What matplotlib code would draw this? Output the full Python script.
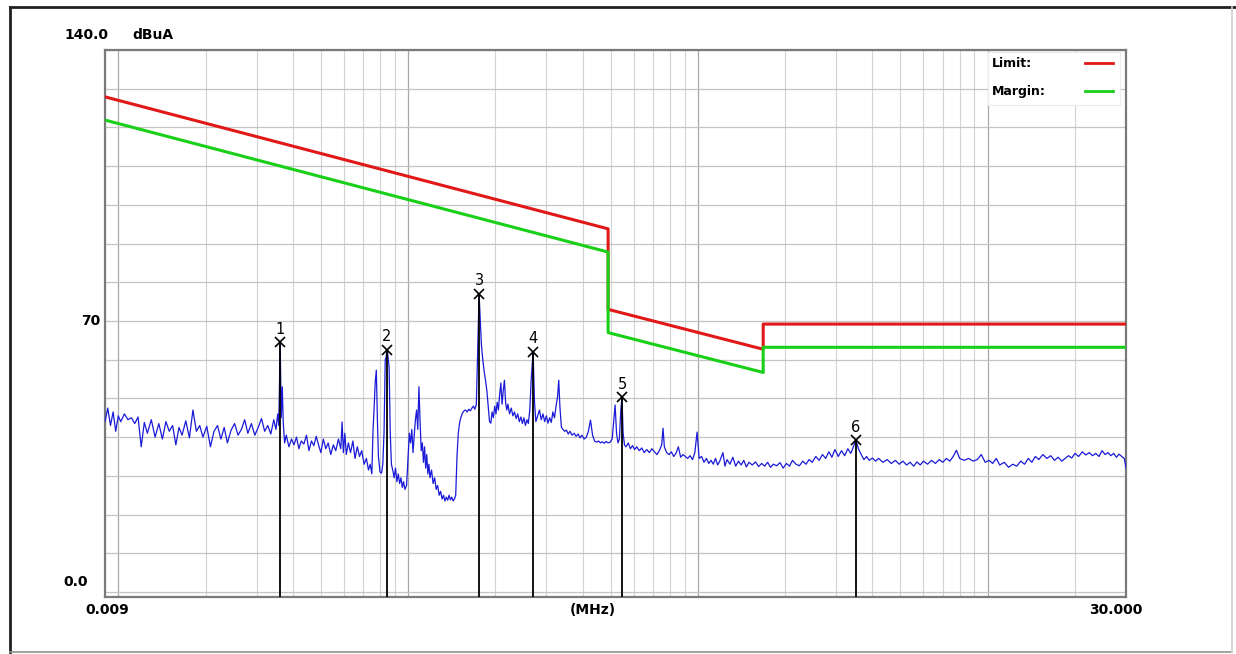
import matplotlib
matplotlib.use('Agg')
import matplotlib.pyplot as plt
from matplotlib.ticker import LogLocator
from matplotlib.lines import Line2D
from matplotlib.patches import Rectangle

# ---- scan data (MHz, dBuA) ----
scan_freq = [
    0.0090, 0.0092, 0.0094, 0.0096, 0.0098, 0.0100, 0.0102, 0.0105,
    0.0108, 0.0111, 0.0114, 0.0117, 0.0120, 0.0123, 0.0126, 0.0130,
    0.0134, 0.0138, 0.0142, 0.0146, 0.0150, 0.0154, 0.0158, 0.0162,
    0.0166, 0.0171, 0.0176, 0.0181, 0.0186, 0.0191, 0.0196, 0.0202,
    0.0208, 0.0214, 0.0220, 0.0226, 0.0232, 0.0238, 0.0245, 0.0252,
    0.0259, 0.0266, 0.0273, 0.0280, 0.0288, 0.0296, 0.0304, 0.0312,
    0.0320, 0.0328, 0.0336, 0.0344, 0.0350, 0.0355, 0.0358, 0.0362,
    0.0365, 0.0368, 0.0371, 0.0375, 0.0380, 0.0388, 0.0396, 0.0404,
    0.0412, 0.0420, 0.0428, 0.0437, 0.0446, 0.0455, 0.0464, 0.0473,
    0.0482, 0.0491, 0.0500, 0.0510, 0.0520, 0.0530, 0.0541, 0.0552,
    0.0563, 0.0575, 0.0586, 0.0592, 0.0598, 0.0605, 0.0612, 0.0622,
    0.0633, 0.0645, 0.0656, 0.0668, 0.0680, 0.0692, 0.0705, 0.0718,
    0.0730, 0.0740, 0.0750, 0.0757, 0.0763, 0.0770, 0.0777, 0.0784,
    0.0790, 0.0800, 0.0810, 0.0818, 0.0826, 0.0834, 0.0840, 0.0846,
    0.0852, 0.0860, 0.0868, 0.0876, 0.0888, 0.0895, 0.0905, 0.0915,
    0.0925, 0.0935, 0.0945, 0.0955, 0.0965, 0.0975, 0.0988, 0.1000,
    0.1010, 0.1020, 0.1030, 0.1040, 0.1050, 0.1060, 0.1070, 0.1080,
    0.1090, 0.1100, 0.1110, 0.1120, 0.1130, 0.1140, 0.1150, 0.1160,
    0.1170, 0.1180, 0.1190, 0.1205, 0.1220, 0.1235, 0.1250, 0.1265,
    0.1280, 0.1295, 0.1310, 0.1325, 0.1340, 0.1355, 0.1370, 0.1385,
    0.1400, 0.1415, 0.1430, 0.1445, 0.1460, 0.1475, 0.1490, 0.1505,
    0.1520, 0.1540, 0.1560, 0.1580, 0.1600, 0.1620, 0.1640, 0.1660,
    0.1680, 0.1700, 0.1720, 0.1735, 0.1758, 0.1775, 0.1790, 0.1810,
    0.1830, 0.1850, 0.1870, 0.1890, 0.1910, 0.1930, 0.1950, 0.1970,
    0.1990, 0.2010, 0.2030, 0.2050, 0.2070, 0.2090, 0.2110, 0.2130,
    0.2150, 0.2170, 0.2190, 0.2210, 0.2240, 0.2270, 0.2300, 0.2330,
    0.2360, 0.2390, 0.2420, 0.2450, 0.2480, 0.2510, 0.2540, 0.2570,
    0.2600, 0.2630, 0.2660, 0.2700, 0.2730, 0.2760, 0.2800, 0.2840,
    0.2880, 0.2920, 0.2960, 0.3000, 0.3040, 0.3080, 0.3120, 0.3160,
    0.3200, 0.3240, 0.3280, 0.3310, 0.3340, 0.3380, 0.3420, 0.3470,
    0.3520, 0.3570, 0.3620, 0.3680, 0.3740, 0.3800, 0.3860, 0.3920,
    0.3980, 0.4050, 0.4120, 0.4190, 0.4260, 0.4330, 0.4400, 0.4470,
    0.4540, 0.4610, 0.4680, 0.4750, 0.4820, 0.4900, 0.4980, 0.5060,
    0.5120, 0.5180, 0.5240, 0.5300, 0.5360, 0.5420, 0.5470, 0.5520,
    0.5580, 0.5650, 0.5750, 0.5850, 0.5950, 0.6050, 0.6150, 0.6280,
    0.6400, 0.6530, 0.6660, 0.6800, 0.6940, 0.7080, 0.7220, 0.7360,
    0.7500, 0.7580, 0.7660, 0.7800, 0.7950, 0.8100, 0.8250, 0.8400,
    0.8560, 0.8720, 0.8880, 0.9050, 0.9220, 0.9400, 0.9580, 0.9760,
    0.9935, 1.0100, 1.0300, 1.0500, 1.0700, 1.0900, 1.1100, 1.1300,
    1.1500, 1.1700, 1.1900, 1.2200, 1.2400, 1.2600, 1.2900, 1.3200,
    1.3500, 1.3800, 1.4100, 1.4400, 1.4700, 1.5000, 1.5400, 1.5800,
    1.6200, 1.6600, 1.7000, 1.7400, 1.7800, 1.8200, 1.8700, 1.9200,
    1.9700, 2.0200, 2.0700, 2.1200, 2.1800, 2.2400, 2.3000, 2.3600,
    2.4200, 2.4800, 2.5500, 2.6200, 2.6900, 2.7600, 2.8300, 2.9000,
    2.9700, 3.0500, 3.1300, 3.2100, 3.2900, 3.3700, 3.4400, 3.5100,
    3.5800, 3.6600, 3.7400, 3.8200, 3.9000, 4.0000, 4.1000, 4.2000,
    4.3500, 4.5000, 4.6500, 4.8000, 4.9500, 5.1000, 5.2500, 5.4000,
    5.5500, 5.7000, 5.8500, 6.0000, 6.2000, 6.4000, 6.6000, 6.8000,
    7.0000, 7.2000, 7.4000, 7.6000, 7.8000, 8.0000, 8.3000, 8.6000,
    8.9000, 9.2000, 9.5000, 9.8000, 10.100, 10.400, 10.700, 11.000,
    11.400, 11.800, 12.200, 12.600, 13.000, 13.400, 13.800, 14.200,
    14.600, 15.000, 15.500, 16.000, 16.500, 17.000, 17.500, 18.000,
    18.500, 19.000, 19.500, 20.000, 20.600, 21.200, 21.800, 22.400,
    23.000, 23.600, 24.200, 24.800, 25.400, 26.000, 26.600, 27.200,
    27.800, 28.400, 29.000, 29.600, 30.000,
]
scan_dbua = [
    44.0, 47.5, 43.0, 46.5, 41.5, 45.5, 44.0, 46.0,
    44.5, 45.0, 43.5, 45.2, 37.5, 43.8, 41.0, 44.5,
    40.0, 43.5, 39.5, 44.0, 41.5, 43.0, 38.0, 42.5,
    40.5, 44.2, 39.8, 47.0, 41.5, 43.0, 40.0, 42.8,
    37.5, 41.5, 43.0, 39.5, 42.5, 38.5, 41.8, 43.5,
    40.5, 42.0, 44.5, 41.0, 43.5, 40.5, 42.5, 44.8,
    41.5, 43.0, 40.8, 44.5, 42.0, 46.0, 43.0, 64.5,
    45.0, 53.0, 43.5, 38.5, 40.5, 37.5, 39.5, 38.0,
    40.0, 37.0, 39.0, 38.2, 40.5, 36.5, 39.0, 37.8,
    40.2, 38.0, 36.0, 39.5, 37.0, 38.5, 35.5, 38.0,
    36.5, 39.5, 37.0, 43.9, 36.0, 41.0, 35.5, 38.5,
    36.0, 39.0, 34.5, 37.5, 35.0, 36.5, 33.0, 34.5,
    31.5, 33.0, 30.5, 42.0, 47.0, 54.0, 57.3, 44.0,
    35.0, 31.0, 30.7, 33.0, 41.0, 60.0, 60.7, 62.5,
    61.0, 58.0, 41.0, 33.0, 31.0, 29.5, 32.0, 28.5,
    30.5, 28.0, 29.5, 27.0, 28.5, 26.5, 27.5, 35.0,
    41.0, 38.5, 42.0, 36.0, 40.5, 44.5, 47.0, 42.0,
    53.0, 44.0, 36.5, 38.5, 33.5, 37.5, 32.0, 35.5,
    30.5, 33.0, 29.5, 31.5, 28.0, 29.5, 26.5, 27.5,
    25.0, 26.0, 24.0, 25.0, 23.5, 24.5, 23.7, 25.0,
    23.8, 24.5, 23.5, 24.0, 25.0, 35.0, 41.0, 43.6,
    45.0, 46.2, 46.8, 47.0, 46.5, 47.2, 46.8, 47.5,
    48.0, 47.2, 48.5, 60.0, 77.0, 70.0, 64.0, 60.0,
    57.0, 54.7, 52.0, 48.0, 44.0, 43.6, 46.5, 45.0,
    48.0, 46.0, 49.0, 47.0, 51.0, 54.0, 48.5, 52.0,
    54.7, 49.0, 47.0, 48.5, 46.0, 47.5, 45.5, 46.5,
    44.8, 46.0, 44.0, 45.2, 43.5, 45.0, 43.0, 44.5,
    43.5, 47.0, 55.0, 62.0, 49.0, 44.0, 45.5, 47.0,
    44.5, 46.0, 44.0, 45.5, 43.6, 45.0, 43.8, 46.5,
    45.0, 48.0, 50.5, 54.7, 48.0, 42.6, 42.0, 41.5,
    41.8, 40.8, 41.5, 40.5, 41.0, 40.2, 40.8, 39.8,
    40.5, 39.5, 40.0, 41.5, 44.4, 40.5, 39.0, 38.7,
    39.0, 38.5, 38.8, 38.4, 38.9, 38.5, 38.7, 39.5,
    44.0, 48.3, 41.0, 38.5, 39.5, 47.0, 50.3, 41.0,
    38.0, 37.5, 38.5, 37.0, 37.8, 36.8, 37.5, 36.5,
    37.2, 36.0, 36.8, 36.0, 37.0, 36.2, 35.5, 36.5,
    38.0, 42.3, 37.5, 36.0, 35.5, 36.2, 35.0, 35.8,
    37.5, 34.8, 35.5, 35.0, 34.5, 35.2, 34.2, 36.0,
    41.3, 34.5, 35.0, 33.5, 34.5, 33.2, 34.0, 33.0,
    34.5, 32.8, 33.8, 36.0, 32.5, 34.2, 33.0, 34.8,
    32.5, 33.8, 32.8, 34.0, 32.3, 33.5, 32.8, 33.6,
    32.4, 33.2, 32.5, 33.5, 32.2, 33.0, 32.6, 33.4,
    32.0, 33.2, 32.5, 34.0, 33.0, 32.6, 33.8, 33.0,
    34.2, 33.5, 35.0, 34.0, 35.5, 34.5, 36.2, 34.8,
    36.8, 35.0, 36.5, 35.2, 37.0, 35.8, 37.5, 39.2,
    37.0, 35.5, 34.2, 35.0, 34.0, 34.6, 33.8, 34.5,
    33.5, 34.2, 33.2, 34.0, 33.0, 33.8, 32.8, 33.5,
    32.5, 33.6, 32.8, 33.8, 33.0, 34.0, 33.2, 34.2,
    33.5, 34.5, 33.8, 35.0, 36.6, 34.5, 34.0, 34.5,
    33.8, 34.2, 35.5, 33.5, 34.0, 33.2, 34.5, 32.8,
    33.5, 32.2, 33.0, 32.5, 33.8, 33.0, 34.5, 33.5,
    35.0, 34.2, 35.5, 34.5, 35.2, 34.0, 34.8, 33.8,
    34.5, 35.2, 34.6, 35.8, 35.0, 36.2, 35.4, 36.0,
    35.2, 35.8, 35.0, 36.5, 35.5, 36.0, 35.2, 35.8,
    34.8, 35.6, 35.0, 34.5, 32.0,
]

# limit and margin lines
limit_freq = [0.009, 0.49, 0.49, 1.68, 1.68, 30.0]
limit_dbua = [127.9, 93.8, 73.0, 62.7, 69.2, 69.2]
margin_freq = [0.009, 0.49, 0.49, 1.68, 1.68, 30.0]
margin_dbua = [121.9, 87.8, 67.0, 56.7, 63.2, 63.2]

# peak markers
marker_no = ['1', '2', '3', '4', '5', '6']
marker_freq = [0.0362, 0.0846, 0.1758, 0.2700, 0.5470, 3.5100]
marker_dbua = [64.5, 62.5, 77.0, 62.0, 50.3, 39.2]

assert len(scan_freq) == len(scan_dbua)

W, H = 1236, 654
fig = plt.figure(figsize=(W / 100, H / 100), dpi=100)
fig.patch.set_facecolor('white')

ax = fig.add_axes([105 / W, 1 - 597 / H, 1021 / W, 547 / H])
ax.set_xscale('log')
ax.set_xlim(0.009, 30)
ymin = -1.3
ax.set_ylim(ymin, 140)
ax.set_yticks(range(0, 141, 10))
ax.xaxis.set_major_locator(LogLocator(base=10, numticks=20))
ax.xaxis.set_minor_locator(LogLocator(base=10, subs=range(2, 10), numticks=50))
ax.grid(which='major', axis='x', color='#a8a8a8', lw=0.9)
ax.grid(which='minor', axis='x', color='#d2d2d2', lw=0.8)
ax.grid(which='major', axis='y', color='#c4c4c4', lw=0.9)
ax.tick_params(which='both', length=0, labelbottom=False, labelleft=False)
ax.set_axisbelow(True)
for s in ax.spines.values():
    s.set_color('#7a7a7a')
    s.set_linewidth(1.6)

ax.plot(scan_freq, scan_dbua, color='#1a1ad8', lw=0.9, zorder=3)
ax.plot(limit_freq, limit_dbua, color='#e01818', lw=2.2, zorder=4)
ax.plot(margin_freq, margin_dbua, color='#18d018', lw=2.2, zorder=4)

ax.vlines(marker_freq, ymin, marker_dbua, colors='black', lw=1.3, zorder=5)
ax.plot(marker_freq, marker_dbua, 'x', color='black', ms=7, mew=1.2, zorder=6)
for n, f, d in zip(marker_no, marker_freq, marker_dbua):
    ax.annotate(n, (f, d), xytext=(0, 4), textcoords='offset points',
                ha='center', va='bottom', fontsize=10.5, zorder=6)

# legend box (top right)
ax.add_patch(Rectangle((0.865, 0.899), 0.129, 0.097, transform=ax.transAxes,
                       facecolor='white', edgecolor='#ececec', lw=0.8, zorder=7))
ax.text(0.869, 0.976, 'Limit:', transform=ax.transAxes, fontsize=9,
        fontweight='bold', va='center', ha='left', zorder=8)
ax.text(0.869, 0.925, 'Margin:', transform=ax.transAxes, fontsize=9,
        fontweight='bold', va='center', ha='left', zorder=8)
ax.add_line(Line2D([0.960, 0.987], [0.976, 0.976], transform=ax.transAxes,
                   color='#e01818', lw=2, zorder=8))
ax.add_line(Line2D([0.960, 0.987], [0.925, 0.925], transform=ax.transAxes,
                   color='#18d018', lw=2, zorder=8))

# axis labels
bold = dict(fontsize=10, fontweight='bold', transform=ax.transAxes)
ax.text(0.003, 1.027, '140.0', ha='right', va='center', **bold)
ax.text(0.027, 1.027, 'dBuA', ha='left', va='center', **bold)
ax.text(-0.005, 0.505, '70', ha='right', va='center', **bold)
ax.text(-0.017, 0.027, '0.0', ha='right', va='center', **bold)
ax.text(0.002, -0.024, '0.009', ha='center', va='center', **bold)
ax.text(0.478, -0.024, '(MHz)', ha='center', va='center', **bold)
ax.text(0.990, -0.024, '30.000', ha='center', va='center', **bold)

# outer window frame
fig.add_artist(Line2D([10 / W, 1], [1 - 7 / H, 1 - 7 / H], color='#202020', lw=2))
fig.add_artist(Line2D([10 / W, 10 / W], [1 - 7 / H, 1 - 652 / H], color='#202020', lw=2))
fig.add_artist(Line2D([10 / W, 1232 / W], [1 - 652 / H, 1 - 652 / H], color='#909090', lw=1.2))
fig.add_artist(Line2D([1232 / W, 1232 / W], [1 - 7 / H, 1 - 652 / H], color='#d0d0d0', lw=1.2))

fig.savefig('out.png', dpi=100)
